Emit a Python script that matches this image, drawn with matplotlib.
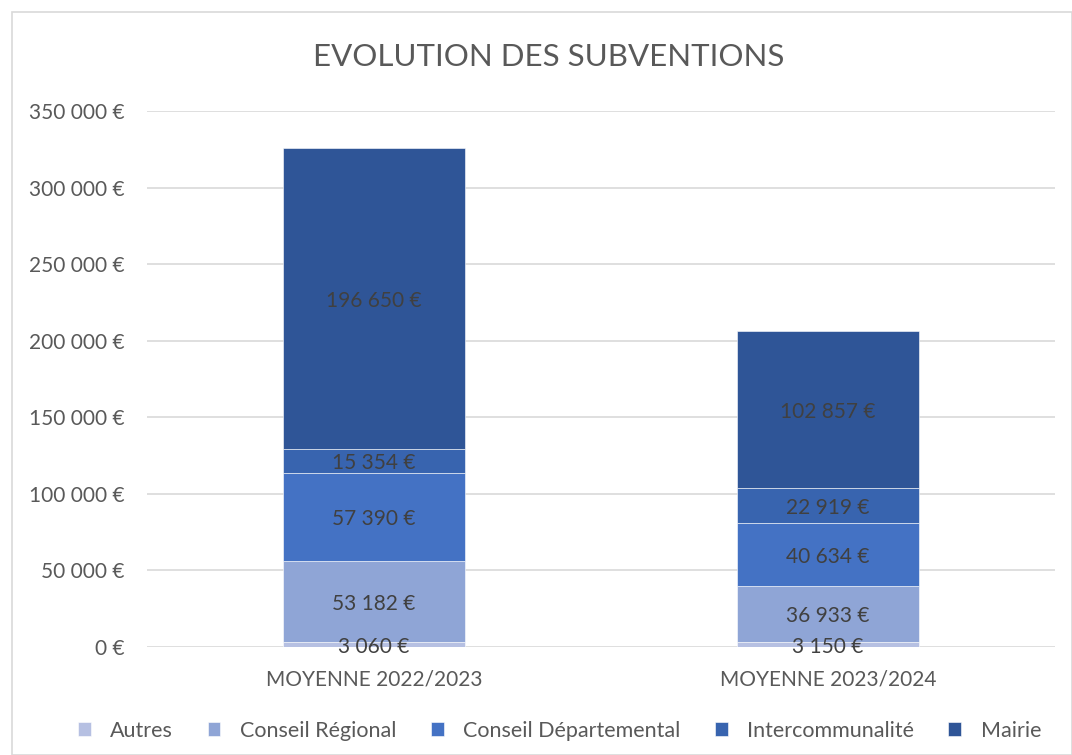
import matplotlib.pyplot as plt
from matplotlib.patches import Rectangle
from matplotlib.ticker import FuncFormatter

plt.rcParams['font.family'] = ['Lato', 'DejaVu Sans']

categories = ['MOYENNE 2022/2023', 'MOYENNE 2023/2024']
series = ['Autres', 'Conseil Régional', 'Conseil Départemental', 'Intercommunalité', 'Mairie']
autres = [3060, 3150]
conseil_regional = [53182, 36933]
conseil_departemental = [57390, 40634]
intercommunalite = [15354, 22919]
mairie = [196650, 102857]
valeurs = [autres, conseil_regional, conseil_departemental, intercommunalite, mairie]
couleurs = ['#b6c0e2', '#8fa5d6', '#4472c4', '#3864af', '#2f5597']


def euro(v, pos=None):
    return '{:,.0f} €'.format(v).replace(',', ' ')


fig = plt.figure(figsize=(10.72, 7.55), dpi=100)
ax = fig.add_axes([0.137, 0.143, 0.847, 0.71])

x = list(range(len(categories)))
bas = [0, 0]
for nom, vals, c in zip(series, valeurs, couleurs):
    ax.bar(x, vals, 0.4, bottom=bas, color=c, label=nom, edgecolor='white', linewidth=0.4, zorder=3)
    for xi, v, b in zip(x, vals, bas):
        ax.text(xi, b + v / 2, euro(v), ha='center', va='center_baseline', fontsize=15, color='#404040', zorder=4)
    bas = [b + v for b, v in zip(bas, vals)]

ax.set_xlim(-0.5, 1.5)
ax.set_ylim(0, 350000)
ax.set_yticks(range(0, 350001, 50000))
ax.yaxis.set_major_formatter(FuncFormatter(euro))
ax.set_xticks(x)
ax.set_xticklabels(categories)
ax.tick_params(length=0, labelsize=15, labelcolor='#595959')
ax.tick_params(axis='y', pad=16)
ax.tick_params(axis='x', pad=16)
ax.grid(axis='y', color='#d9d9d9', linewidth=1.2, zorder=0)
for s in ax.spines.values():
    s.set_visible(False)

fig.text(0.512, 0.925, 'EVOLUTION DES SUBVENTIONS', ha='center', va='center', fontsize=22.5, color='#595959')
fig.legend(loc='center', bbox_to_anchor=(0.522, 0.032), ncol=5, frameon=False, fontsize=15.5,
           labelcolor='#595959', handlelength=0.6, handleheight=0.6, handletextpad=0.9, columnspacing=1.6)
fig.patches.append(Rectangle((12 / 1072, 0), 1 - 12 / 1072, 1 - 12 / 755, transform=fig.transFigure,
                             fill=False, edgecolor='#d9d9d9', linewidth=1.2))

plt.savefig('out.png', dpi=100)
